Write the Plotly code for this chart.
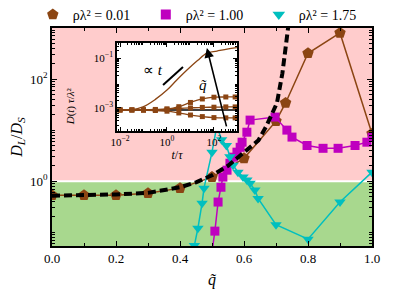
import plotly.graph_objects as go

# ---------------- main data ----------------
q_brown = [0.0, 0.1, 0.2, 0.3, 0.4, 0.5, 0.6, 0.7, 0.73, 0.8, 0.9, 1.0]
v_brown = [0.53, 0.53, 0.53, 0.58, 0.73, 1.2, 2.8, 15, 34, 320, 800, 8.5]

q_mag = [0.497, 0.509, 0.519, 0.528, 0.534, 0.547, 0.556, 0.566, 0.578, 0.588, 0.594,
         0.609, 0.619, 0.697, 0.734, 0.75, 0.797, 0.847, 0.894, 0.947, 0.984, 1.0]
v_mag = [0.03, 0.105, 0.39, 0.76, 1.2, 1.64, 2.25, 2.95, 3.7, 4.6, 5.8,
         9.1, 15.7, 18, 10, 7.3, 5, 4.4, 4.4, 5, 5.8, 7.3]

q_cyan = [0.445, 0.456, 0.469, 0.475, 0.5, 0.515, 0.53, 0.545, 0.556, 0.566, 0.581,
          0.597, 0.609, 0.619, 0.634, 0.644, 0.7, 0.8, 0.9, 1.0]
v_cyan = [0.055, 0.12, 0.37, 0.73, 3.7, 12, 6.5, 5.0, 3.0, 2.06, 1.5,
          1.2, 1.05, 0.91, 0.67, 0.46, 0.14, 0.073, 0.39, 1.5]

q_theory = [0.0, 0.1, 0.2, 0.3, 0.4, 0.45, 0.5, 0.55, 0.6, 0.645, 0.67, 0.703, 0.72, 0.73, 0.74]
v_theory = [0.52, 0.53, 0.55, 0.59, 0.76, 0.95, 1.3, 2.0, 3.6, 6.3, 12, 34, 130, 400, 1300]

labels = ["ρλ² = 0.01", "ρλ² = 1.00", "ρλ² = 1.75"]

# ---------------- inset data ----------------
t_top = [0.0074, 0.03, 0.095, 0.32, 1.0, 2.5, 7.1, 20, 50, 135, 650, 950]
D_top = [8.3e-4, 8.4e-4, 1.1e-3, 2.2e-3, 5.2e-3, 1.26e-2, 3.3e-2, 7.9e-2, 0.158, 0.19, 0.25, 0.26]

t_grid = [0.01, 0.032, 0.1, 0.32, 1.0, 3.2, 10, 32, 100, 320, 800]
D_a = [8.3e-4, 8.3e-4, 8.3e-4, 8.3e-4, 8.9e-4, 1.12e-3, 1.66e-3, 2.29e-3, 2.69e-3, 2.75e-3, 2.75e-3]
D_b = [8.3e-4, 8.3e-4, 8.5e-4, 8.7e-4, 9.1e-4, 9.5e-4, 1.0e-3, 1.05e-3, 1.07e-3, 1.1e-3, 1.1e-3]
D_c = [8.3e-4, 8.3e-4, 8.1e-4, 7.9e-4, 7.4e-4, 6.3e-4, 5.2e-4, 4.5e-4, 4.1e-4, 4.0e-4, 4.0e-4]

t_base = [0.0074, 950]
D_base = [8.3e-4, 8.3e-4]

t_slope = [0.68, 4.8]
D_slope = [8.3e-3, 4.4e-2]

BROWN = "#8B4513"
MAG = "#BF00BF"
CYAN = "#00BFBF"
PINK = "#FFCCCC"
GREEN = "#A8D88E"
FONT = "Liberation Serif"

fig = go.Figure()

# main traces
fig.add_trace(go.Scatter(x=q_brown, y=v_brown, mode="lines+markers",
                         line=dict(color=BROWN, width=1.5),
                         marker=dict(symbol="pentagon", size=12, color=BROWN),
                         showlegend=False, xaxis="x", yaxis="y"))
fig.add_trace(go.Scatter(x=q_mag, y=v_mag, mode="lines+markers",
                         line=dict(color=MAG, width=1.5),
                         marker=dict(symbol="square", size=9, color=MAG),
                         showlegend=False, xaxis="x", yaxis="y"))
fig.add_trace(go.Scatter(x=q_cyan, y=v_cyan, mode="lines+markers",
                         line=dict(color=CYAN, width=1.5),
                         marker=dict(symbol="triangle-down", size=10, color=CYAN),
                         showlegend=False, xaxis="x", yaxis="y"))
fig.add_trace(go.Scatter(x=q_theory, y=v_theory, mode="lines",
                         line=dict(color="black", width=4, dash="8px,4px"),
                         showlegend=False, xaxis="x", yaxis="y"))

# legend-only traces
for lab, col, sym, sz in zip(labels, [BROWN, MAG, CYAN],
                             ["pentagon", "square", "triangle-down"], [12, 10, 11]):
    fig.add_trace(go.Scatter(x=[None], y=[None], mode="markers", name=lab,
                             marker=dict(symbol=sym, size=sz, color=col),
                             xaxis="x", yaxis="y"))

# inset traces
fig.add_trace(go.Scatter(x=t_base, y=D_base, mode="lines", line=dict(color="black", width=1.5),
                         showlegend=False, xaxis="x2", yaxis="y2"))
fig.add_trace(go.Scatter(x=t_top, y=D_top, mode="lines", line=dict(color=BROWN, width=1.3, shape="spline"),
                         showlegend=False, xaxis="x2", yaxis="y2"))
for Dv in (D_a, D_b, D_c):
    fig.add_trace(go.Scatter(x=t_grid, y=Dv, mode="lines+markers",
                             line=dict(color=BROWN, width=1.3, shape="spline"),
                             marker=dict(symbol="square", size=5, color=BROWN),
                             showlegend=False, xaxis="x2", yaxis="y2"))
fig.add_trace(go.Scatter(x=t_slope, y=D_slope, mode="lines", line=dict(color="black", width=2),
                         showlegend=False, xaxis="x2", yaxis="y2"))

# backgrounds
shapes = [
    dict(type="rect", xref="x domain", yref="y", x0=0, x1=1, y0=1, y1=1e4,
         fillcolor=PINK, line_width=0, layer="below"),
    dict(type="rect", xref="x domain", yref="y", x0=0, x1=1, y0=1e-3, y1=1,
         fillcolor=GREEN, line_width=0, layer="below"),
    dict(type="line", xref="x domain", yref="y", x0=0, x1=1, y0=1, y1=1,
         line=dict(color="white", width=2), layer="below"),
    dict(type="rect", xref="x2 domain", yref="y2 domain", x0=0, x1=1, y0=0, y1=1,
         fillcolor="white", line_width=0, layer="below"),
]

ax_common = dict(showline=True, linecolor="black", linewidth=1.5, mirror="ticks",
                 ticks="inside", showgrid=False, zeroline=False, tickcolor="black")

y_minor = [m * 10.0 ** k for k in range(-2, 3) for m in range(1, 10) if not (m == 1 and k in (0, 2))]

fig.update_layout(
    width=407, height=283,
    margin=dict(l=44, r=43, t=20, b=45, autoexpand=False),
    paper_bgcolor="white", plot_bgcolor="white",
    font=dict(family=FONT, size=13, color="black"),
    shapes=shapes,
    xaxis=dict(domain=[0, 1], range=[0, 1], tickvals=[0, 0.2, 0.4, 0.6, 0.8, 1.0],
               ticktext=["0.0", "0.2", "0.4", "0.6", "0.8", "1.0"], ticklen=5, tickwidth=1.2,
               minor=dict(dtick=0.1, ticks="inside", ticklen=3, tickcolor="black"),
               title=dict(text="<i>q̃</i>", font=dict(size=16), standoff=8),
               tickfont=dict(size=13), **ax_common),
    yaxis=dict(domain=[0, 1], type="log", range=[-1.27, 3.0],
               tickvals=[1, 100],
               ticktext=["10<sup>0</sup>", "10<sup>2</sup>"], ticklen=5, tickwidth=1.2,
               minor=dict(tickvals=y_minor, ticks="inside", ticklen=3, tickcolor="black"),
               title=dict(text="<i>D<sub>L</sub></i>/<i>D<sub>S</sub></i>", font=dict(size=16), standoff=6),
               tickfont=dict(size=13), **ax_common),
    xaxis2=dict(domain=[0.203, 0.578], anchor="y2", type="log", range=[-2.13, 2.98],
                tickvals=[0.01, 1, 100], ticktext=["10<sup>−2</sup>", "10<sup>0</sup>", "10<sup>2</sup>"],
                ticklen=4, tickfont=dict(size=11),
                minor=dict(tickvals=[m * 10.0 ** k for k in range(-3, 3) for m in range(2, 10)],
                           ticks="inside", ticklen=2, tickcolor="black"),
                title=dict(text="<i>t</i>/<i>τ</i>", font=dict(size=12), standoff=0),
                **ax_common),
    yaxis2=dict(domain=[0.528, 0.931], anchor="x2", type="log", range=[-3.92, -0.4],
                tickvals=[1e-3, 1e-1], ticktext=["10<sup>−3</sup>", "10<sup>−1</sup>"],
                ticklen=4, tickfont=dict(size=11),
                minor=dict(tickvals=[m * 10.0 ** k for k in range(-4, 0) for m in range(2, 10)],
                           ticks="inside", ticklen=2, tickcolor="black"),
                **ax_common),
    legend=dict(orientation="h", x=-0.06, xanchor="left", y=1.06, yanchor="middle",
                bgcolor="rgba(0,0,0,0)", font=dict(size=14), itemwidth=30,
                entrywidth=68, entrywidthmode="pixels", tracegroupgap=0),
    annotations=[
        dict(xref="x2", yref="y2", axref="x2", ayref="y2", x=1.70, y=-0.6, ax=2.55, ay=-3.8,
             showarrow=True, arrowhead=2, arrowsize=1.2, arrowwidth=1.6, arrowcolor="black", text=""),
        dict(xref="x2", yref="y2", x=1.55, y=-2.08, text="<i>q̃</i>", showarrow=False,
             font=dict(size=15)),
        dict(xref="x2", yref="y2", x=-0.6, y=-1.48, text="∝ <i>t</i>", showarrow=False,
             font=dict(size=15)),
        dict(xref="paper", yref="paper", x=0.031, y=0.739, textangle=-90, showarrow=False,
             text="<i>D</i>(<i>t</i>) <i>τ</i>/<i>λ</i>²", font=dict(size=11)),
    ],
)

fig.write_html("out.html")
